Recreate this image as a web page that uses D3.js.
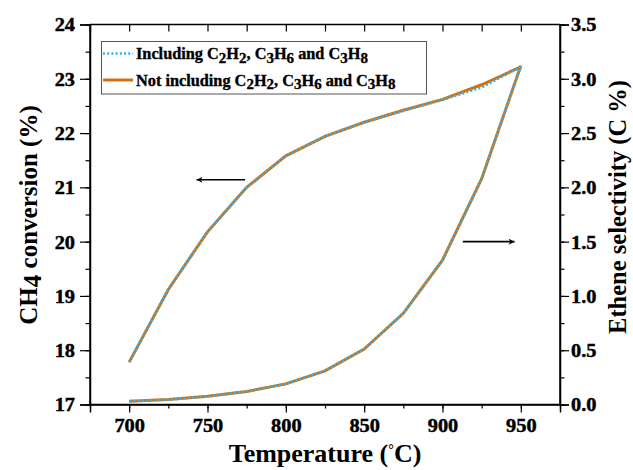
<!DOCTYPE html>
<html><head><meta charset="utf-8">
<script src="https://cdn.jsdelivr.net/npm/d3@7"></script>
<style>body{margin:0;background:#fff}svg{display:block}text{font-family:"Liberation Serif","Times New Roman",serif;font-weight:bold;fill:#000}</style>
</head><body>
<svg id="c" width="633" height="470"></svg>
<script>
const temperatures = [700,725,750,775,800,825,850,875,900,925,950];
const convIncluding = [17.78,19.12,20.18,21.0,21.58,21.94,22.2,22.41,22.61,22.84,23.22];
const convNotIncluding = [17.78,19.12,20.18,21.0,21.58,21.94,22.2,22.42,22.62,22.89,23.22];
const selIncluding = [0.03,0.045,0.075,0.12,0.19,0.31,0.51,0.84,1.33,2.08,3.12];
const selNotIncluding = [0.03,0.045,0.075,0.12,0.19,0.31,0.51,0.84,1.33,2.08,3.12];
const xTicks = [700,750,800,850,900,950];
const yLeftTicks = [17,18,19,20,21,22,23,24];
const yRightTicks = [0,0.5,1.0,1.5,2.0,2.5,3.0,3.5];
const arrowLeft = {x1:774, x2:743, y:21.14};
const arrowRight = {x1:913, x2:946, y:1.5};

const W=633,H=470, L=90,R=560,T=24.5,B=404.5;
const svg=d3.select("#c");
const x=d3.scaleLinear().domain([675,975]).range([L,R]);
const yL=d3.scaleLinear().domain([17,24]).range([B,T]);
const yR=d3.scaleLinear().domain([0,3.5]).range([B,T]);
const blue="#33B3EE", orange="#D4700A";

function stretch(sel,origin,k){
  sel.style("transform-box","fill-box").style("transform-origin",origin).style("transform",`scaleX(${k})`);
}

// axes
const fs=18.5;
const gB=svg.append("g").attr("transform",`translate(0,${B})`)
  .call(d3.axisBottom(x).tickValues(d3.range(675,976,25)).tickSize(4).tickFormat(""));
gB.append("g").call(d3.axisBottom(x).tickValues(xTicks).tickSize(8).tickFormat(d3.format("d")));
const gT=svg.append("g").attr("transform",`translate(0,${T})`)
  .call(d3.axisBottom(x).tickValues(d3.range(675,976,25)).tickSize(7).tickFormat(""));
const gL=svg.append("g").attr("transform",`translate(${L},0)`)
  .call(d3.axisLeft(yL).tickValues(d3.range(17,24.01,0.5)).tickSize(4.5).tickFormat(""));
gL.append("g").call(d3.axisLeft(yL).tickValues(yLeftTicks).tickSize(10).tickFormat(d3.format("d")));
const gR=svg.append("g").attr("transform",`translate(${R},0)`)
  .call(d3.axisRight(yR).tickValues(d3.range(0,3.51,0.25)).tickSize(4.5).tickFormat(""));
gR.append("g").call(d3.axisRight(yR).tickValues(yRightTicks).tickSize(9).tickFormat(d3.format(".1f")));
svg.selectAll(".domain").attr("stroke","#000").attr("stroke-width",1.5);
gT.select(".domain").attr("d",`M${L},0H${R}`);
gB.select(".domain").attr("d",`M${L},0H${R}`);
gL.select(".domain").attr("d",`M0,${T}V${B}`);
gR.select(".domain").attr("d",`M0,${T}V${B}`);
svg.selectAll(".tick line").attr("stroke","#000").attr("stroke-width",1.2);
svg.selectAll(".tick text").attr("font-size",fs).attr("font-family","Liberation Serif").attr("font-weight","bold")
  .attr("fill","#000").attr("stroke","#000").attr("stroke-width",0.45);
gB.selectAll(".tick text").attr("dy","0.95em").attr("y",10);
gL.selectAll(".tick text").attr("x",-15).attr("dy","0.35em");
gR.selectAll(".tick text").attr("x",11).attr("dy","0.35em");
stretch(gB.selectAll(".tick text"),"center",1.1);
stretch(gL.selectAll(".tick text"),"right center",1.1);
stretch(gR.selectAll(".tick text"),"left center",1.1);

// lines
const lineL=d3.line().x((d,i)=>x(temperatures[i])).y(d=>yL(d));
const lineR=d3.line().x((d,i)=>x(temperatures[i])).y(d=>yR(d));
const plot=svg.append("g");
plot.append("path").attr("d",lineL(convNotIncluding)).attr("fill","none").attr("stroke",orange).attr("stroke-width",3);
plot.append("path").attr("d",lineR(selNotIncluding)).attr("fill","none").attr("stroke",orange).attr("stroke-width",3);
plot.append("path").attr("d",lineL(convIncluding)).attr("fill","none").attr("stroke",blue).attr("stroke-width",2.6).attr("stroke-dasharray","2,2.2");
plot.append("path").attr("d",lineR(selIncluding)).attr("fill","none").attr("stroke",blue).attr("stroke-width",2.6).attr("stroke-dasharray","2,2.2");

// arrows
const defs=svg.append("defs");
defs.append("marker").attr("id","ah").attr("viewBox","0 0 10 10").attr("refX",10).attr("refY",5)
  .attr("markerWidth",10).attr("markerHeight",6).attr("markerUnits","userSpaceOnUse").attr("orient","auto")
  .append("path").attr("d","M0,0L10,5L0,10L3,5Z").attr("fill","#000");
svg.append("line").attr("x1",x(arrowLeft.x1)).attr("x2",x(arrowLeft.x2)).attr("y1",yL(arrowLeft.y)).attr("y2",yL(arrowLeft.y))
  .attr("stroke","#000").attr("stroke-width",1.6).attr("marker-end","url(#ah)");
svg.append("line").attr("x1",x(arrowRight.x1)).attr("x2",x(arrowRight.x2)).attr("y1",yR(arrowRight.y)).attr("y2",yR(arrowRight.y))
  .attr("stroke","#000").attr("stroke-width",1.6).attr("marker-end","url(#ah)");

// legend
const lg=svg.append("g");
lg.append("rect").attr("x",101.5).attr("y",41.5).attr("width",325).attr("height",52.5)
  .attr("fill","#fff").attr("stroke","#555").attr("stroke-width",1);
function rich(t,parts,size){
  parts.forEach(p=>{
    const s=t.append("tspan").text(p[0]);
    if(p[1]) s.attr("font-size",size*0.92).attr("dy",3.5);
    else if(p[2]) s.attr("dy",-3.5);
  });
}
const legendItems=[
  {name:[["Including C"],["2",1],["H",0,1],["2",1],[", C",0,1],["3",1],["H",0,1],["6",1],[" and C",0,1],["3",1],["H",0,1],["8",1]], color:blue, dash:"2,2.2", w:2.6},
  {name:[["Not including C"],["2",1],["H",0,1],["2",1],[", C",0,1],["3",1],["H",0,1],["6",1],[" and C",0,1],["3",1],["H",0,1],["8",1]], color:orange, dash:null, w:3}
];
legendItems.forEach((it,i)=>{
  const yy=53.5+i*26.5;
  const ln=lg.append("line").attr("x1",103).attr("x2",133).attr("y1",yy).attr("y2",yy).attr("stroke",it.color).attr("stroke-width",it.w);
  if(it.dash) ln.attr("stroke-dasharray",it.dash);
  const t=lg.append("text").attr("x",136).attr("y",yy+5.5).attr("font-size",16.3).attr("stroke","#000").attr("stroke-width",0.35);
  rich(t,it.name,16.3);
});

// axis titles
const tx=svg.append("text").attr("x",325).attr("y",462).attr("text-anchor","middle").attr("font-size",26);
tx.append("tspan").text("Temperature (");
tx.append("tspan").text("°").attr("font-size",14).attr("dy",-8);
tx.append("tspan").text("C)").attr("dy",8).attr("font-size",26);
const tl=svg.append("text").attr("transform","translate(37,215) rotate(-90)").attr("text-anchor","middle").attr("font-size",25);
tl.append("tspan").text("CH");
tl.append("tspan").text("4").attr("dy",4);
tl.append("tspan").text(" conversion (%)").attr("dy",-4);
svg.append("text").attr("transform","translate(626,207) rotate(-90)").attr("text-anchor","middle").attr("font-size",24.5).text("Ethene selectivity (C %)");
</script>
</body></html>
